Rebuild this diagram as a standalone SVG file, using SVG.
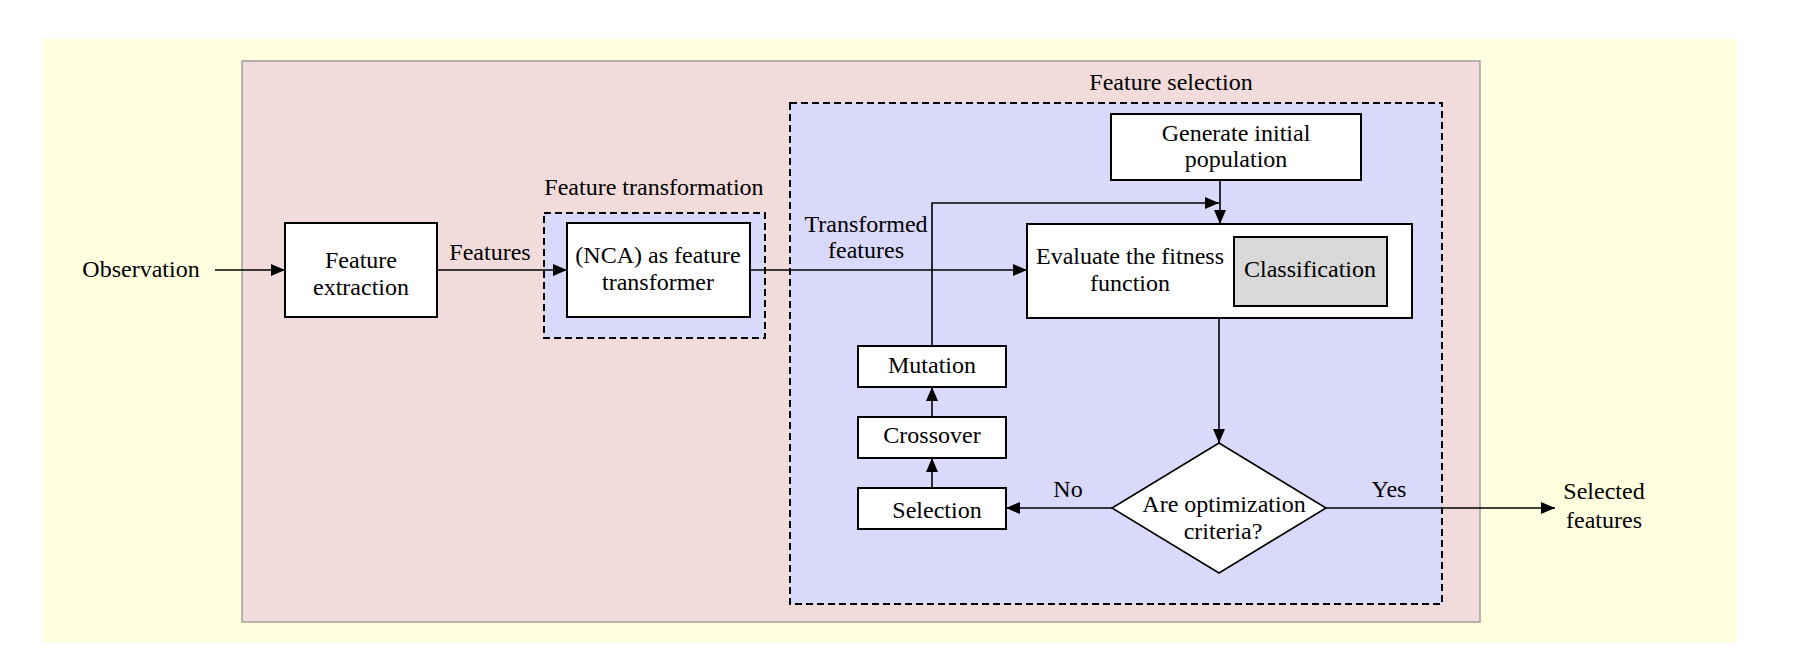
<svg xmlns="http://www.w3.org/2000/svg" width="1795" height="658" viewBox="0 0 1795 658">
<defs>
<marker id="arr" viewBox="0 0 14 12" refX="14" refY="6" markerWidth="14" markerHeight="12" markerUnits="userSpaceOnUse" orient="auto">
<path d="M0,0 L14,6 L0,12 Z" fill="#000"/>
</marker>
</defs>
<style>
text{font-family:"Liberation Serif","Times New Roman",serif;font-size:24px;fill:#000;text-anchor:middle}
.box{fill:#fff;stroke:#000;stroke-width:2}
.grey{fill:#d9d9d9;stroke:#000;stroke-width:2}
.dash{fill:#d9d9fb;stroke:#000;stroke-width:2;stroke-dasharray:7 4}
.edge{fill:none;stroke:#000;stroke-width:1.6;marker-end:url(#arr)}
.line{fill:none;stroke:#000;stroke-width:1.6}
</style>
<rect width="1795" height="658" fill="#fff"/>
<g id="background">
<rect x="43" y="39" width="1694" height="604" fill="#ffffe0"/>
<rect x="242" y="61" width="1238" height="561" fill="#f2dcdb" stroke="#a0a0a0" stroke-width="1.5"/>
</g>
<g id="group-transformation">
<rect class="dash" x="544" y="213" width="221" height="125"/>
<text x="654" y="195">Feature transformation</text>
</g>
<g id="group-selection">
<rect class="dash" x="790" y="103" width="652" height="501"/>
<text x="1171" y="90">Feature selection</text>
</g>
<g id="observation">
<text x="141" y="277">Observation</text>
</g>
<g id="feature-extraction">
<rect class="box" x="285" y="223" width="152" height="94"/>
<text x="361" y="268">Feature</text>
<text x="361" y="295">extraction</text>
</g>
<g id="nca">
<rect class="box" x="567" y="223" width="183" height="94"/>
<text x="658" y="263">(NCA) as feature</text>
<text x="658" y="290">transformer</text>
</g>
<g id="generate">
<rect class="box" x="1111" y="114" width="250" height="66"/>
<text x="1236" y="141">Generate initial</text>
<text x="1236" y="167">population</text>
</g>
<g id="evaluate">
<rect class="box" x="1027" y="224" width="385" height="94"/>
<text x="1130" y="264">Evaluate the fitness</text>
<text x="1130" y="291">function</text>
</g>
<g id="classification">
<rect class="grey" x="1234" y="237" width="153" height="69"/>
<text x="1310" y="277">Classification</text>
</g>
<g id="mutation">
<rect class="box" x="858" y="346" width="148" height="41"/>
<text x="932" y="373">Mutation</text>
</g>
<g id="crossover">
<rect class="box" x="858" y="417" width="148" height="41"/>
<text x="932" y="443">Crossover</text>
</g>
<g id="selection">
<rect class="box" x="858" y="488" width="148" height="41"/>
<text x="937" y="518">Selection</text>
</g>
<g id="decision">
<polygon points="1219,443 1326,508 1219,573 1112,508" fill="#fff" stroke="#000" stroke-width="1.6"/>
<text x="1224" y="512">Are optimization</text>
<text x="1223" y="539">criteria?</text>
</g>
<g id="selected-features">
<text x="1604" y="499">Selected</text>
<text x="1604" y="528">features</text>
</g>
<g id="connectors">
<line class="edge" x1="215" y1="270" x2="285" y2="270"/>
<line class="edge" x1="437" y1="270" x2="567" y2="270"/>
<text x="490" y="260">Features</text>
<line class="edge" x1="750" y1="270" x2="1027" y2="270"/>
<text x="866" y="232">Transformed</text>
<text x="866" y="258">features</text>
<line class="edge" x1="1220" y1="180" x2="1220" y2="224"/>
<polyline class="edge" points="932,346 932,203 1219,203"/>
<line class="edge" x1="1219" y1="318" x2="1219" y2="443"/>
<line class="edge" x1="1112" y1="508" x2="1006" y2="508"/>
<text x="1068" y="497">No</text>
<line class="edge" x1="1326" y1="508" x2="1555" y2="508"/>
<text x="1389" y="497">Yes</text>
<line class="edge" x1="932" y1="488" x2="932" y2="458"/>
<line class="edge" x1="932" y1="417" x2="932" y2="387"/>
</g>
</svg>
